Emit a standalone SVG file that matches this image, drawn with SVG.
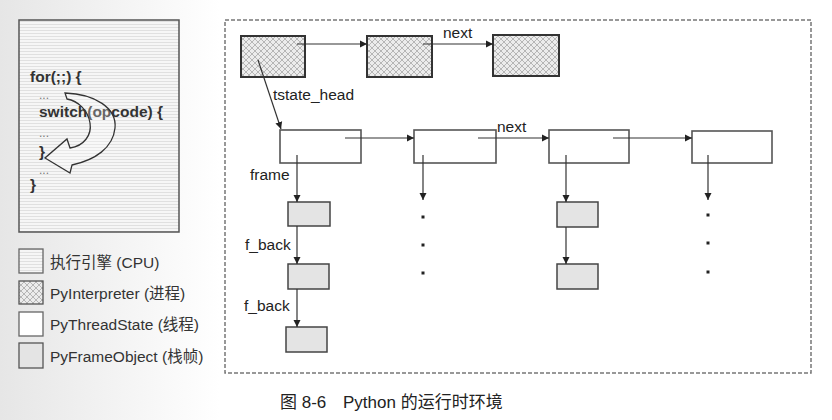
<svg xmlns="http://www.w3.org/2000/svg" width="832" height="420" viewBox="0 0 832 420">
<defs>
<linearGradient id="bg" x1="0" y1="0" x2="1" y2="0">
<stop offset="0" stop-color="#e6e6e6"/>
<stop offset="1" stop-color="#ffffff"/>
</linearGradient>
<pattern id="hatch" width="6" height="6" patternUnits="userSpaceOnUse">
<rect width="6" height="6" fill="#ececec"/>
<path d="M0,0 L6,6 M6,0 L0,6" stroke="#a8a8a8" stroke-width="0.8"/>
</pattern>
<pattern id="stripe" width="4" height="3" patternUnits="userSpaceOnUse">
<rect width="4" height="3" fill="#f6f6f6"/>
<line x1="0" y1="0.5" x2="4" y2="0.5" stroke="#e0e0e0" stroke-width="1"/>
</pattern>
<marker id="ah" markerWidth="8" markerHeight="8" refX="7" refY="4" orient="auto" markerUnits="userSpaceOnUse">
<path d="M0,0.5 L7,4 L0,7.5 Z" fill="#222"/>
</marker>
<style>
.t{font-family:"Liberation Sans",Arial,sans-serif;fill:#222;font-size:15.5px}
.code{font-family:"Liberation Sans",Arial,sans-serif;font-weight:bold;fill:#333;font-size:15.5px}
.dots{font-family:"Liberation Sans",Arial,sans-serif;fill:#777;font-size:12px}
.leg{font-family:"Liberation Sans","Noto Sans CJK SC",sans-serif;fill:#333;font-size:15.5px}
.interp{fill:url(#hatch);stroke:#333;stroke-width:2}
.thread{fill:#fff;stroke:#555;stroke-width:1.6}
.frame{fill:#e4e4e4;stroke:#444;stroke-width:1.5}
.conn{stroke:#333;stroke-width:1.2;fill:none;marker-end:url(#ah)}
.dot{fill:#222}
</style>
</defs>
<rect width="832" height="420" fill="#fff"/>
<rect x="0" y="0" width="220" height="420" fill="url(#bg)"/>

<g id="cpu-panel">
<rect x="19" y="20" width="160" height="212" fill="url(#stripe)" stroke="#555" stroke-width="1.5"/>
<text class="code" x="30" y="82">for(;;) {</text>
<text class="dots" x="39" y="99">...</text>
<text class="code" x="39" y="117">switch(opcode) {</text>
<text class="dots" x="39" y="137">...</text>
<text class="code" x="39" y="157">}</text>
<text class="dots" x="39" y="174">...</text>
<text class="code" x="30" y="190">}</text>
<path d="M65,93 C95,94 117,108 115,128 C113,148 95,160 72,165 L70,173 L45,158 L67,139 L70,148 C84,146 92,135 90,123 C88,110 78,101 67,99 Z" fill="#fff" fill-opacity="0.25" stroke="#333" stroke-width="1.3"/>
</g>

<g id="legend">
<rect x="19" y="249" width="24" height="24" fill="url(#stripe)" stroke="#666" stroke-width="1.3"/>
<text class="leg" x="50" y="268">执行引擎 (CPU)</text>
<rect x="19" y="281" width="24" height="23" fill="url(#hatch)" stroke="#555" stroke-width="1.3"/>
<text class="leg" x="50" y="299">PyInterpreter (进程)</text>
<rect x="19" y="312" width="24" height="24" fill="#fff" stroke="#666" stroke-width="1.3"/>
<text class="leg" x="50" y="330">PyThreadState (线程)</text>
<rect x="19" y="343" width="24" height="25" fill="#e4e4e4" stroke="#555" stroke-width="1.3"/>
<text class="leg" x="50" y="362">PyFrameObject (栈帧)</text>
</g>

<rect id="runtime-env" x="225" y="20" width="586" height="353" fill="none" stroke="#777" stroke-width="1.5" stroke-dasharray="4,2"/>

<g id="interp1"><rect class="interp" x="241" y="36" width="64" height="41"/></g>
<g id="interp2"><rect class="interp" x="367" y="36" width="65" height="41"/></g>
<g id="interp3"><rect class="interp" x="493" y="35" width="66" height="41"/></g>

<g id="thread1"><rect class="thread" x="280" y="130" width="81" height="33"/></g>
<g id="thread2"><rect class="thread" x="414" y="130" width="82" height="33"/></g>
<g id="thread3"><rect class="thread" x="549" y="130" width="80" height="33"/></g>
<g id="thread4"><rect class="thread" x="692" y="131" width="80" height="32"/></g>

<g id="frame1a"><rect class="frame" x="288" y="202" width="42" height="24"/></g>
<g id="frame1b"><rect class="frame" x="288" y="264" width="41" height="25"/></g>
<g id="frame1c"><rect class="frame" x="286" y="327" width="41" height="25"/></g>
<g id="frame3a"><rect class="frame" x="557" y="202" width="41" height="25"/></g>
<g id="frame3b"><rect class="frame" x="557" y="264" width="41" height="25"/></g>

<g id="connectors">
<line class="conn" x1="297" y1="44" x2="367" y2="44"/>
<line class="conn" x1="423" y1="44" x2="493" y2="44"/>
<line class="conn" x1="258" y1="60" x2="281" y2="129"/>
<line class="conn" x1="345" y1="138" x2="414" y2="138"/>
<line class="conn" x1="478" y1="138" x2="549" y2="138"/>
<line class="conn" x1="613" y1="138" x2="692" y2="138"/>
<line class="conn" x1="297" y1="155" x2="297" y2="202"/>
<line class="conn" x1="297" y1="226" x2="297" y2="264"/>
<line class="conn" x1="297" y1="289" x2="297" y2="327"/>
<line class="conn" x1="423" y1="155" x2="423" y2="200"/>
<line class="conn" x1="566" y1="155" x2="566" y2="202"/>
<line class="conn" x1="566" y1="227" x2="566" y2="264"/>
<line class="conn" x1="708" y1="155" x2="708" y2="200"/>
</g>

<g id="dots">
<rect class="dot" x="421.5" y="215.5" width="3" height="3"/>
<rect class="dot" x="421.5" y="243.5" width="3" height="3"/>
<rect class="dot" x="421.5" y="271.5" width="3" height="3"/>
<rect class="dot" x="706.5" y="213.5" width="3" height="3"/>
<rect class="dot" x="706.5" y="241.5" width="3" height="3"/>
<rect class="dot" x="706.5" y="270.5" width="3" height="3"/>
</g>

<g id="labels">
<text class="t" x="443" y="38">next</text>
<text class="t" x="273" y="100">tstate_head</text>
<text class="t" x="497" y="132">next</text>
<text class="t" x="250" y="180">frame</text>
<text class="t" x="245" y="250">f_back</text>
<text class="t" x="244" y="311">f_back</text>
</g>

<g id="caption" style="font-family:'Liberation Sans','Noto Sans CJK SC',sans-serif;font-size:17px;fill:#222">
<text x="280" y="408">图 8-6</text>
<text x="343" y="408">Python 的运行时环境</text>
</g>
</svg>
